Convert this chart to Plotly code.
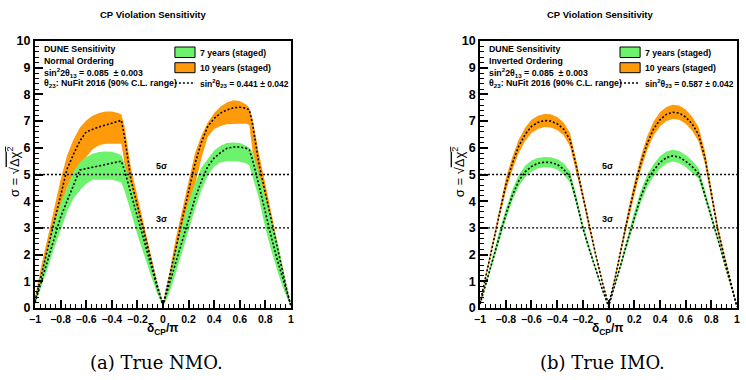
import plotly.graph_objects as go

# ---------------- data ----------------
# Panel (a): True NMO
X_A = [-1, -0.95, -0.9, -0.85, -0.8, -0.75, -0.7, -0.65, -0.6, -0.55, -0.5, -0.45, -0.4, -0.35, -0.325,
       -0.3, -0.25, -0.2, -0.15, -0.1, -0.05, 0,
       0.05, 0.1, 0.15, 0.2, 0.25, 0.3, 0.35, 0.4, 0.45, 0.5, 0.55, 0.6, 0.65, 0.675,
       0.7, 0.75, 0.8, 0.85, 0.9, 0.95, 1]
A_10Y_CENTRAL = [0.25, 1.25, 2.25, 3.25, 4.25, 5.2, 5.75, 6.25, 6.6, 6.7, 6.78, 6.85, 6.92, 6.99, 7.03,
                 6.4, 4.8, 3.85, 2.85, 1.9, 0.95, 0.1,
                 1.1, 2.2, 3.3, 4.4, 5.4, 6.2, 6.8, 7.1, 7.3, 7.42, 7.5, 7.52, 7.48, 7.42,
                 6.9, 5.4, 4.3, 3.15, 2.1, 1.05, 0.05]
A_10Y_UPPER = [0.4, 1.6, 2.65, 3.7, 4.8, 5.7, 6.3, 6.75, 7.02, 7.2, 7.3, 7.36, 7.36, 7.3, 7.25,
               6.8, 5.25, 4.2, 3.15, 2.1, 1.05, 0.15,
               1.3, 2.6, 3.7, 4.75, 5.8, 6.45, 6.95, 7.3, 7.55, 7.7, 7.78, 7.75, 7.62, 7.5,
               7.1, 5.8, 4.65, 3.5, 2.35, 1.2, 0.1]
A_10Y_LOWER = [0.15, 1.0, 1.95, 2.8, 3.7, 4.5, 5.0, 5.4, 5.65, 5.95, 6.1, 6.15, 6.15, 6.15, 6.15,
               5.4, 4.35, 3.45, 2.5, 1.65, 0.8, 0.05,
               0.9, 1.9, 2.9, 3.9, 4.6, 5.6, 6.4, 6.7, 6.82, 6.88, 6.9, 6.9, 6.9, 6.85,
               5.9, 4.9, 3.9, 2.8, 1.85, 0.9, 0.05]
A_7Y_CENTRAL = [0.2, 1.0, 1.8, 2.65, 3.4, 4.0, 4.6, 5.17, 5.22, 5.27, 5.32, 5.37, 5.42, 5.47, 5.5,
                5.15, 4.3, 3.35, 2.5, 1.65, 0.85, 0.1,
                0.9, 1.7, 2.55, 3.35, 4.1, 4.75, 5.3, 5.62, 5.82, 5.98, 6.03, 6.03, 5.98, 5.92,
                5.55, 4.6, 3.55, 2.6, 1.7, 0.85, 0.1]
A_7Y_UPPER = [0.3, 1.3, 2.3, 3.2, 3.9, 4.5, 5.1, 5.45, 5.65, 5.78, 5.84, 5.86, 5.85, 5.78, 5.72,
              5.4, 4.6, 3.65, 2.75, 1.85, 0.95, 0.12,
              1.1, 2.1, 3.1, 3.95, 4.65, 5.25, 5.6, 5.9, 6.08, 6.18, 6.2, 6.18, 6.08, 6.0,
              5.85, 5.05, 4.15, 3.3, 2.35, 1.2, 0.1]
A_7Y_LOWER = [0.12, 0.8, 1.5, 2.25, 2.9, 3.6, 4.1, 4.4, 4.65, 4.8, 4.8, 4.8, 4.8, 4.75, 4.7,
              4.4, 3.6, 2.75, 2.0, 1.3, 0.6, 0.05,
              0.55, 1.3, 2.1, 2.85, 3.7, 4.4, 4.95, 5.3, 5.45, 5.5, 5.5, 5.48, 5.42, 5.35,
              5.0, 4.1, 3.0, 2.1, 1.3, 0.6, 0.05]

# Panel (b): True IMO
X_B = [-1, -0.95, -0.9, -0.85, -0.8, -0.75, -0.7, -0.65, -0.6, -0.55, -0.5, -0.45, -0.4, -0.35,
       -0.3, -0.25, -0.2, -0.15, -0.1, -0.05, 0,
       0.05, 0.1, 0.15, 0.2, 0.25, 0.3, 0.35, 0.4, 0.45, 0.5, 0.55, 0.6, 0.65,
       0.7, 0.75, 0.8, 0.85, 0.9, 0.95, 1]
B_10Y_CENTRAL = [0.2, 1.3, 2.5, 3.6, 4.6, 5.4, 6.05, 6.5, 6.8, 6.95, 7.02, 7.0, 6.9, 6.7,
                 6.3, 5.3, 4.2, 3.0, 2.0, 1.0, 0.1,
                 1.1, 2.3, 3.4, 4.45, 5.4, 6.15, 6.7, 7.05, 7.25, 7.33, 7.3, 7.15, 6.9,
                 6.5, 5.65, 4.3, 2.95, 1.95, 0.98, 0.05]
B_10Y_UPPER = [0.25, 1.4, 2.65, 3.8, 4.85, 5.65, 6.3, 6.75, 7.05, 7.2, 7.27, 7.26, 7.15, 6.95,
               6.55, 5.5, 4.35, 3.1, 2.07, 1.05, 0.12,
               1.2, 2.45, 3.6, 4.7, 5.65, 6.42, 6.98, 7.33, 7.53, 7.61, 7.58, 7.43, 7.17,
               6.78, 5.9, 4.5, 3.1, 2.05, 1.03, 0.07]
B_10Y_LOWER = [0.15, 1.2, 2.35, 3.4, 4.35, 5.15, 5.8, 6.25, 6.55, 6.7, 6.78, 6.76, 6.67, 6.47,
               6.05, 5.1, 4.05, 2.9, 1.93, 0.95, 0.08,
               1.0, 2.15, 3.2, 4.2, 5.15, 5.9, 6.45, 6.8, 7.0, 7.08, 7.05, 6.9, 6.65,
               6.25, 5.4, 4.1, 2.8, 1.85, 0.93, 0.03]
B_7Y_CENTRAL = [0.15, 1.0, 1.85, 2.7, 3.5, 4.2, 4.75, 5.1, 5.3, 5.42, 5.46, 5.45, 5.38, 5.2,
                4.9, 4.0, 3.0, 2.2, 1.45, 0.72, 0.05,
                0.85, 1.7, 2.55, 3.4, 4.15, 4.75, 5.15, 5.45, 5.63, 5.7, 5.65, 5.5, 5.3,
                5.05, 4.25, 3.45, 2.6, 1.75, 0.88, 0.05]
B_7Y_UPPER = [0.18, 1.1, 2.0, 2.88, 3.7, 4.42, 4.97, 5.33, 5.52, 5.62, 5.66, 5.65, 5.58, 5.42,
              5.12, 4.2, 3.15, 2.3, 1.53, 0.76, 0.06,
              0.92, 1.82, 2.72, 3.6, 4.38, 4.98, 5.38, 5.68, 5.86, 5.93, 5.88, 5.73, 5.52,
              5.25, 4.42, 3.58, 2.7, 1.82, 0.92, 0.06]
B_7Y_LOWER = [0.12, 0.9, 1.7, 2.52, 3.3, 4.0, 4.55, 4.9, 5.1, 5.23, 5.27, 5.26, 5.19, 5.0,
              4.7, 3.85, 2.88, 2.1, 1.38, 0.68, 0.04,
              0.78, 1.58, 2.38, 3.2, 3.92, 4.52, 4.92, 5.22, 5.41, 5.49, 5.43, 5.28, 5.08,
              4.85, 4.08, 3.32, 2.5, 1.68, 0.84, 0.04]

SIGMA_LEVELS = [3, 5]
SIGMA_LABELS = ["3σ", "5σ"]
X_RANGE = [-1, 1]
Y_RANGE = [0, 10]

LEGEND_LABELS = ["7 years (staged)", "10 years (staged)"]
INFO_A = ["DUNE Sensitivity", "Normal Ordering",
          "sin<sup>2</sup>2θ<sub>13</sub> = 0.085  ± 0.003",
          "θ<sub>23</sub>: NuFit 2016 (90% C.L. range)"]
INFO_B = ["DUNE Sensitivity", "Inverted Ordering",
          "sin<sup>2</sup>2θ<sub>13</sub> = 0.085  ± 0.003",
          "θ<sub>23</sub>: NuFit 2016 (90% C.L. range)"]
TH23_A = "sin<sup>2</sup>θ<sub>23</sub> = 0.441 ± 0.042"
TH23_B = "sin<sup>2</sup>θ<sub>23</sub> = 0.587 ± 0.042"
CAPTIONS = ["(a) True NMO.", "(b) True IMO."]
TITLE = "CP Violation Sensitivity"

GREEN = "#6CF26C"
ORANGE = "#FF9A0A"

# ---------------- layout geometry ----------------
W, H = 746, 380
ML, MR, MT, MB = 35, 6, 41, 72
PW = W - ML - MR
PH = H - MT - MB


def px(x):
    return (x - ML) / PW


def py(y):
    return (H - MB - y) / PH


SANS = "Liberation Sans, Arial, sans-serif"

fig = go.Figure()


def band(xs, up, lo, color, xa, ya):
    fig.add_trace(go.Scatter(x=list(xs) + list(xs)[::-1], y=list(up) + list(lo)[::-1],
                             fill="toself", fillcolor=color, mode="lines",
                             line=dict(width=0, color=color), hoverinfo="skip",
                             showlegend=False, xaxis=xa, yaxis=ya))


def dotted(xs, ys, xa, ya, width=1.6):
    fig.add_trace(go.Scatter(x=xs, y=ys, mode="lines",
                             line=dict(color="black", width=width, dash="2px,2px"),
                             hoverinfo="skip", showlegend=False, xaxis=xa, yaxis=ya))


panels = [
    (X_A, A_10Y_UPPER, A_10Y_LOWER, A_10Y_CENTRAL, A_7Y_UPPER, A_7Y_LOWER, A_7Y_CENTRAL, "x", "y"),
    (X_B, B_10Y_UPPER, B_10Y_LOWER, B_10Y_CENTRAL, B_7Y_UPPER, B_7Y_LOWER, B_7Y_CENTRAL, "x2", "y2"),
]
for xs, ou, ol, oc, gu, gl, gc, xa, ya in panels:
    band(xs, ou, ol, ORANGE, xa, ya)
    band(xs, gu, gl, GREEN, xa, ya)
    dotted(xs, oc, xa, ya)
    dotted(xs, gc, xa, ya)
    for lvl in SIGMA_LEVELS:
        dotted(X_RANGE, [lvl, lvl], xa, ya, width=1.3)
    for lvl, lab in zip(SIGMA_LEVELS, SIGMA_LABELS):
        fig.add_annotation(x=0, y=lvl, xref=xa, yref=ya, text="<b>" + lab + "</b>",
                           showarrow=False, yanchor="bottom", yshift=2, xshift=-1,
                           font=dict(family=SANS, size=9, color="black"))

axis_common = dict(showline=True, linewidth=2, linecolor="black", mirror=True,
                   ticks="inside", tickwidth=1.5, tickcolor="black", showgrid=False,
                   zeroline=False, fixedrange=True)

xdom_a = [0, (292 - ML) / PW]
xdom_b = [(482 - ML) / PW, 1]

xaxis_cfg = dict(axis_common, range=X_RANGE, dtick=0.2, tick0=-1, ticklen=8,
                 tickfont=dict(family=SANS, size=10.5, color="black", weight="bold"),
                 minor=dict(dtick=0.04, ticklen=4, ticks="inside", tickwidth=1.2, tickcolor="black"))
yaxis_cfg = dict(axis_common, range=Y_RANGE, dtick=1, tick0=0, ticklen=8,
                 tickfont=dict(family=SANS, size=12.5, color="black", weight="bold"),
                 minor=dict(dtick=0.2, ticklen=4, ticks="inside", tickwidth=1.2, tickcolor="black"))

fig.update_layout(
    width=W, height=H, margin=dict(l=ML, r=MR, t=MT, b=MB),
    paper_bgcolor="white", plot_bgcolor="white", showlegend=False,
    xaxis=dict(xaxis_cfg, domain=xdom_a, anchor="y"),
    yaxis=dict(yaxis_cfg, domain=[0, 1], anchor="x"),
    xaxis2=dict(xaxis_cfg, domain=xdom_b, anchor="y2"),
    yaxis2=dict(yaxis_cfg, domain=[0, 1], anchor="x2"),
)

shapes = []
ann = []


def text(x, y, t, size, xanchor="left", yanchor="middle", family=SANS, bold=True, angle=0):
    ann.append(dict(x=px(x), y=py(y), xref="paper", yref="paper",
                    text=("<b>" + t + "</b>") if bold else t, showarrow=False,
                    xanchor=xanchor, yanchor=yanchor, textangle=angle,
                    font=dict(family=family, size=size, color="black")))


for (ox, info, th23, cap, title_x, cap_x) in [
        (0, INFO_A, TH23_A, CAPTIONS[0], 154, 157),
        (447, INFO_B, TH23_B, CAPTIONS[1], 602, 605)]:
    # title
    text(title_x, 15, TITLE, 9.5, xanchor="center")
    # info block
    for i, line in enumerate(info):
        text(42 + ox, 49 + i * 11.6, line, 8.8)
    # legend
    lx0, lx1 = 175.5 + ox, 195.7 + ox
    for (y0, y1, col) in [(47, 57.5, GREEN), (62.7, 72.7, ORANGE)]:
        shapes.append(dict(type="rect", xref="paper", yref="paper", x0=px(lx0), x1=px(lx1),
                           y0=py(y1), y1=py(y0), fillcolor=col, line=dict(color="black", width=1)))
    shapes.append(dict(type="line", xref="paper", yref="paper", x0=px(lx0), x1=px(lx1),
                       y0=py(83), y1=py(83), line=dict(color="black", width=1.5, dash="2px,2px")))
    text(198.5 + ox, 52.5, LEGEND_LABELS[0], 8.7)
    text(198.5 + ox, 68, LEGEND_LABELS[1], 8.7)
    text(198.5 + ox, 83.5, th23, 8.5)
    # axis titles
    text(163 + ox, 329, "δ<sub>CP</sub>/π", 12, xanchor="center")
    ann.append(dict(x=px(13 + ox), y=py(172), xref="paper", yref="paper",
                    text="σ = √<span style='text-decoration:overline'>Δχ<sup>2</sup></span>",
                    showarrow=False, textangle=-90, xanchor="center", yanchor="middle",
                    font=dict(family=SANS, size=13, color="black")))
    # caption
    text(cap_x, 362, cap, 18, xanchor="center", family="DejaVu Serif", bold=False)

fig.update_layout(shapes=shapes, annotations=list(fig.layout.annotations) + ann)

fig.write_html("out.html", config=dict(displayModeBar=False))
